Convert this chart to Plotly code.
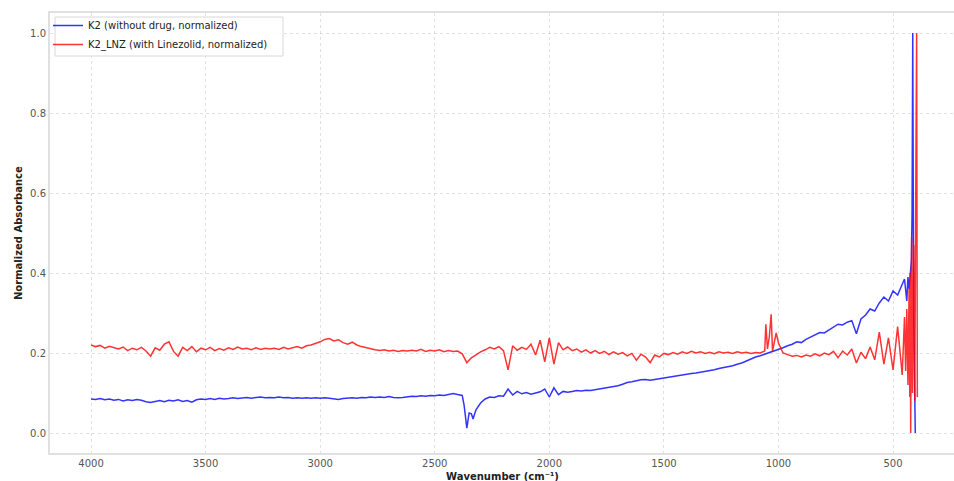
import plotly.graph_objects as go

# ---------------- data ----------------
# regular grid 4000 -> 460 cm^-1, step 20
grid_wn = list(range(4000, 440, -20))

k2_grid = [
    0.085, 0.084, 0.086, 0.083, 0.085, 0.082, 0.084, 0.080, 0.083, 0.081,
    0.084, 0.082, 0.078, 0.076, 0.079, 0.081, 0.078, 0.082, 0.080, 0.083,
    0.079, 0.081, 0.077, 0.083, 0.085, 0.084, 0.086, 0.084, 0.087, 0.085,
    0.086, 0.088, 0.086, 0.087, 0.089, 0.087, 0.088, 0.090, 0.088, 0.089,
    0.088, 0.090, 0.088, 0.089, 0.087, 0.088, 0.087, 0.088, 0.087, 0.088,
    0.087, 0.088, 0.087, 0.086, 0.084, 0.086, 0.087, 0.088, 0.087, 0.089,
    0.088, 0.090, 0.089, 0.090, 0.089, 0.091, 0.089, 0.088, 0.089, 0.091,
    0.092, 0.091, 0.093, 0.092, 0.094, 0.093, 0.095, 0.094, 0.097, 0.099,
    0.096, 0.094, 0.012, 0.048, 0.058, 0.075, 0.085, 0.090, 0.089, 0.093,
    0.092, 0.110, 0.095, 0.104, 0.098, 0.101, 0.097, 0.100, 0.103, 0.110,
    0.090, 0.113, 0.096, 0.104, 0.102, 0.104, 0.106, 0.105, 0.107, 0.106,
    0.108, 0.110, 0.112, 0.113, 0.115, 0.118, 0.122, 0.126, 0.128, 0.131,
    0.133, 0.134, 0.132, 0.134, 0.136, 0.138, 0.140, 0.141, 0.143, 0.145,
    0.147, 0.149, 0.150, 0.152, 0.153, 0.155, 0.158, 0.161, 0.163, 0.166,
    0.168, 0.172, 0.175, 0.180, 0.186, 0.190, 0.193, 0.197, 0.201, 0.205,
    0.208, 0.213, 0.218, 0.222, 0.228, 0.226, 0.234, 0.240, 0.245, 0.251,
    0.250, 0.258, 0.265, 0.272, 0.270, 0.277, 0.281, 0.248, 0.285, 0.295,
    0.310, 0.305, 0.325, 0.340, 0.330, 0.355, 0.345, 0.370,
]

lnz_grid = [
    0.220, 0.216, 0.219, 0.212, 0.217, 0.213, 0.210, 0.215, 0.206, 0.212,
    0.208, 0.214, 0.205, 0.192, 0.213, 0.207, 0.222, 0.228, 0.204, 0.192,
    0.214, 0.206, 0.216, 0.203, 0.212, 0.208, 0.214, 0.206, 0.211, 0.207,
    0.213, 0.209, 0.215, 0.210, 0.212, 0.208, 0.213, 0.209, 0.212, 0.210,
    0.212, 0.209, 0.214, 0.210, 0.213, 0.216, 0.212, 0.218, 0.220, 0.224,
    0.228, 0.234, 0.236, 0.230, 0.233, 0.226, 0.222, 0.227, 0.220, 0.216,
    0.213, 0.210, 0.208, 0.206, 0.208, 0.205, 0.207, 0.204, 0.206, 0.205,
    0.207, 0.205, 0.209, 0.204, 0.207, 0.205, 0.208, 0.203, 0.206, 0.204,
    0.205, 0.198, 0.176, 0.188, 0.196, 0.203, 0.208, 0.214, 0.210, 0.216,
    0.206, 0.158, 0.218, 0.207, 0.214, 0.209, 0.222, 0.195, 0.232, 0.178,
    0.238, 0.172, 0.226, 0.208, 0.215, 0.206, 0.210, 0.202, 0.208, 0.200,
    0.206, 0.199, 0.204, 0.196, 0.203, 0.197, 0.201, 0.193, 0.199, 0.182,
    0.197, 0.190, 0.176, 0.195, 0.190, 0.199, 0.196, 0.201, 0.197, 0.203,
    0.199, 0.204, 0.200, 0.203, 0.199, 0.202, 0.198, 0.203, 0.200, 0.202,
    0.199, 0.203, 0.200, 0.202, 0.199, 0.201, 0.200, 0.205, 0.240, 0.220,
    0.225, 0.200, 0.196, 0.192, 0.194, 0.190, 0.195, 0.192, 0.198, 0.193,
    0.200, 0.196, 0.204, 0.188, 0.205, 0.195, 0.210, 0.175, 0.202, 0.186,
    0.215, 0.183, 0.252, 0.172, 0.238, 0.158, 0.266, 0.145,
]

# extra readings at features between grid points
k2_extra_wn = [2372, 2350, 2333, 450, 440, 435, 430, 425, 420, 417, 414, 410, 406, 403]
k2_extra = [0.070, 0.050, 0.035, 0.385, 0.330, 0.390, 0.360, 0.400, 0.430, 0.550, 1.000, 0.300, 0.120, 0.000]

lnz_extra_wn = [1055, 1048, 1032, 1026, 1010,
                450, 445, 440, 435, 430, 427, 425, 423, 419, 415, 410, 405, 400, 397, 394]
lnz_extra = [0.272, 0.210, 0.297, 0.205, 0.250,
             0.290, 0.155, 0.310, 0.120, 0.360, 0.090, 0.400, 0.000, 0.490, 0.100, 0.470, 0.080, 0.710, 1.000, 0.090]

y_ticks = [0.0, 0.2, 0.4, 0.6, 0.8, 1.0]
x_ticks = [4000, 3500, 3000, 2500, 2000, 1500, 1000, 500]


def merge(wn_a, v_a, wn_b, v_b):
    pts = sorted(zip(wn_a + wn_b, v_a + v_b), key=lambda p: -p[0])
    return [p[0] for p in pts], [p[1] for p in pts]


k2_wn, k2_val = merge(grid_wn, k2_grid, k2_extra_wn, k2_extra)
lnz_wn, lnz_val = merge(grid_wn, lnz_grid, lnz_extra_wn, lnz_extra)

# ---------------- figure ----------------
fig = go.Figure()
fig.add_trace(go.Scatter(x=k2_wn, y=k2_val, mode="lines",
                         name="K2 (without drug, normalized)",
                         line=dict(color="rgba(0,0,255,0.8)", width=1.5)))
fig.add_trace(go.Scatter(x=lnz_wn, y=lnz_val, mode="lines",
                         name="K2_LNZ (with Linezolid, normalized)",
                         line=dict(color="rgba(255,0,0,0.8)", width=1.5)))

W, H = 954, 481
L, R, T, B = 50, 0, 13, 28
PW, PH = W - L - R, H - T - B


def px_x(x):
    return (x - L) / PW


def px_y(y):
    return (H - B - y) / PH


font_family = "DejaVu Sans"
fig.update_layout(
    width=W, height=H,
    margin=dict(l=L, r=R, t=T, b=B),
    paper_bgcolor="white", plot_bgcolor="white",
    font=dict(family=font_family, size=10, color="#444"),
    showlegend=True,
    legend=dict(x=px_x(48), y=px_y(11), xanchor="left", yanchor="top",
                bgcolor="rgba(0,0,0,0)", borderwidth=0, tracegroupgap=0,
                font=dict(family=font_family, size=10, color="#222")),
    xaxis=dict(range=[4179, 234], tickvals=x_ticks, ticks="",
               showgrid=True, gridcolor="rgba(170,170,170,0.35)", griddash="dot", gridwidth=1,
               showline=True, mirror=True, linecolor="#e0e0e0", linewidth=2,
               zeroline=False, tickfont=dict(size=10, color="#555")),
    yaxis=dict(range=[-0.05, 1.05], tickvals=y_ticks, tickformat=".1f", ticks="",
               showgrid=True, gridcolor="rgba(170,170,170,0.35)", griddash="dot", gridwidth=1,
               showline=True, mirror=False, linecolor="#e0e0e0", linewidth=2,
               zeroline=False, tickfont=dict(size=10, color="#555")),
    shapes=[
        dict(type="rect", xref="paper", yref="paper", layer="above",
             x0=px_x(55), x1=px_x(283), y0=px_y(56), y1=px_y(17),
             line=dict(color="#d8d8d8", width=1), fillcolor="rgba(255,255,255,0.85)"),
    ],
    annotations=[
        dict(text="<b>Wavenumber (cm⁻¹)</b>", xref="paper", yref="paper",
             x=0.5, y=px_y(476), xanchor="center", yanchor="middle", showarrow=False,
             font=dict(family=font_family, size=10, color="#222")),
        dict(text="<b>Normalized Absorbance</b>", xref="paper", yref="paper",
             x=px_x(18), y=0.5, xanchor="center", yanchor="middle", showarrow=False,
             textangle=-90, font=dict(family=font_family, size=10, color="#222")),
    ],
)

fig.write_html("out.html")
